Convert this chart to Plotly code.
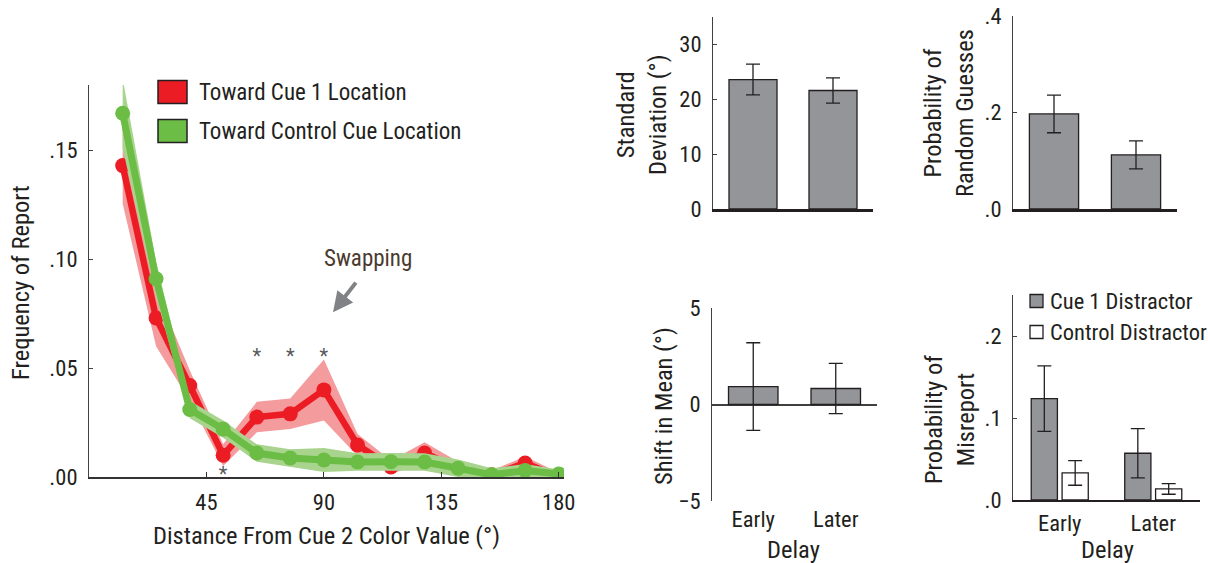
import plotly.graph_objects as go

# ---------------- data ----------------
angles = [12.9, 25.7, 38.6, 51.4, 64.3, 77.1, 90.0, 102.9, 115.7, 128.6, 141.4, 154.3, 167.1, 180.0]
cue1_freq = [0.143, 0.073, 0.042, 0.010, 0.0275, 0.029, 0.040, 0.0147, 0.0046, 0.011, 0.004, 0.001, 0.0064, 0.0]
cue1_err = [0.0175, 0.013, 0.007, 0.005, 0.007, 0.007, 0.014, 0.005, 0.003, 0.005, 0.003, 0.002, 0.003, 0.002]
ctrl_freq = [0.167, 0.091, 0.031, 0.022, 0.011, 0.0087, 0.0078, 0.0069, 0.007, 0.0069, 0.004, 0.001, 0.003, 0.0014]
ctrl_err = [0.016, 0.008, 0.004, 0.004, 0.004, 0.004, 0.0055, 0.004, 0.004, 0.004, 0.004, 0.003, 0.003, 0.002]
sig_above_angles = [64.3, 77.1, 90.0]
sig_above_level = 0.0548
sig_below_angles = [51.4]
sig_below_level = 0.0006

delay = ["Early", "Later"]
sd_vals = [23.6, 21.6]
sd_err = [2.8, 2.3]
guess_vals = [0.197, 0.112]
guess_err = [0.039, 0.029]
shift_vals = [0.93, 0.83]
shift_err = [2.27, 1.3]
mis_cue1 = [0.1236, 0.057]
mis_cue1_err = [0.040, 0.030]
mis_ctrl = [0.033, 0.0135]
mis_ctrl_err = [0.015, 0.0065]

# ---------------- style ----------------
FONT = "Liberation Sans Narrow, Roboto Condensed, Arial Narrow, Liberation Sans, sans-serif"
INK = "#231f20"
RED = "#ec1c24"
RED_BAND = "#f49b9d"
GREEN = "#6bbd45"
GREEN_BAND = "#a8d48e"
GRAY_BAR = "#939598"
W, H = 1210, 563


def px(x):
    return x / W


def py(y):
    return 1 - y / H


fig = go.Figure()

# ---- left panel: bands + lines ----
def band(xs, ys, es, color):
    up = [v + e for v, e in zip(ys, es)]
    lo = [v - e for v, e in zip(ys, es)]
    return go.Scatter(x=xs + xs[::-1], y=up + lo[::-1], fill="toself", fillcolor=color,
                      line=dict(width=0), mode="lines", hoverinfo="skip", showlegend=False,
                      xaxis="x", yaxis="y")

fig.add_trace(band(angles, cue1_freq, cue1_err, RED_BAND))
fig.add_trace(go.Scatter(x=angles, y=cue1_freq, mode="lines+markers", line=dict(color=RED, width=6.5),
                         marker=dict(color=RED, size=15), showlegend=False, xaxis="x", yaxis="y"))
fig.add_trace(band(angles, ctrl_freq, ctrl_err, GREEN_BAND))
fig.add_trace(go.Scatter(x=angles, y=ctrl_freq, mode="lines+markers", line=dict(color=GREEN, width=7),
                         marker=dict(color=GREEN, size=15), showlegend=False, xaxis="x", yaxis="y"))
fig.add_trace(go.Scatter(x=sig_above_angles, y=[sig_above_level] * len(sig_above_angles), mode="text",
                         text=["*"] * len(sig_above_angles), textfont=dict(size=20, color="#58595b", family=FONT),
                         showlegend=False, xaxis="x", yaxis="y", hoverinfo="skip", cliponaxis=False))
fig.add_trace(go.Scatter(x=sig_below_angles, y=[sig_below_level] * len(sig_below_angles), mode="text",
                         text=["*"] * len(sig_below_angles), textfont=dict(size=20, color="#58595b", family=FONT),
                         showlegend=False, xaxis="x", yaxis="y", hoverinfo="skip", cliponaxis=False))

# ---- bar panels ----
bar_line = dict(color=INK, width=1.3)
err_style = dict(type="data", thickness=1.3, color=INK, width=7)

fig.add_trace(go.Bar(x=delay, y=sd_vals, width=0.6, marker=dict(color=GRAY_BAR, line=bar_line),
                     error_y=dict(array=sd_err, **err_style), showlegend=False, xaxis="x2", yaxis="y2"))
fig.add_trace(go.Bar(x=delay, y=guess_vals, width=0.6, marker=dict(color=GRAY_BAR, line=bar_line),
                     error_y=dict(array=guess_err, **err_style), showlegend=False, xaxis="x3", yaxis="y3"))
fig.add_trace(go.Bar(x=delay, y=shift_vals, width=0.6, marker=dict(color=GRAY_BAR, line=bar_line),
                     error_y=dict(array=shift_err, **err_style), showlegend=False, xaxis="x4", yaxis="y4"))
fig.add_trace(go.Bar(x=delay, y=mis_cue1, width=0.28, offset=-0.305, name="Cue 1 Distractor",
                     marker=dict(color=GRAY_BAR, line=bar_line),
                     error_y=dict(array=mis_cue1_err, **err_style), showlegend=False, xaxis="x5", yaxis="y5"))
fig.add_trace(go.Bar(x=delay, y=mis_ctrl, width=0.28, offset=0.025, name="Control Distractor",
                     marker=dict(color="white", line=bar_line),
                     error_y=dict(array=mis_ctrl_err, **err_style), showlegend=False, xaxis="x5", yaxis="y5"))

tickfont = dict(family=FONT, size=22.5, color=INK)

common_y = dict(showgrid=False, zeroline=False, showline=True, linecolor="#404040", linewidth=1,
                ticks="inside", ticklen=4, tickcolor="#404040", tickfont=tickfont, ticklabelstandoff=6)

fig.update_layout(
    width=W, height=H, margin=dict(l=0, r=0, t=0, b=0, autoexpand=False),
    paper_bgcolor="white", plot_bgcolor="rgba(0,0,0,0)",
    font=dict(family=FONT, color=INK),
    barmode="overlay", showlegend=False,
    xaxis=dict(domain=[px(89), px(564)], range=[0, 182], tickvals=[45, 90, 135, 180],
               showgrid=False, zeroline=False, showline=True, linecolor="#333333", linewidth=1.5,
               ticks="inside", ticklen=5, tickcolor="#333333", tickfont=tickfont, ticklabelstandoff=4,
               anchor="y"),
    yaxis=dict(domain=[py(477), py(85)], range=[0, 0.18], tickvals=[0, 0.05, 0.10, 0.15],
               ticktext=[".00", ".05", ".10", ".15"], anchor="x", **common_y),
    xaxis2=dict(domain=[px(713), px(873)], range=[-0.5, 1.5], showticklabels=False, ticks="",
                showgrid=False, zeroline=False, showline=True, linecolor=INK, linewidth=2.5, anchor="y2"),
    yaxis2=dict(domain=[py(209), py(17)], range=[0, 35], tickvals=[0, 10, 20, 30], anchor="x2", **common_y),
    xaxis3=dict(domain=[px(1013), px(1177)], range=[-0.5, 1.5], showticklabels=False, ticks="",
                showgrid=False, zeroline=False, showline=True, linecolor=INK, linewidth=2.5, anchor="y3"),
    yaxis3=dict(domain=[py(209), py(16)], range=[0, 0.4], tickvals=[0, 0.2, 0.4],
                ticktext=[".0", ".2", ".4"], anchor="x3", **common_y),
    xaxis4=dict(domain=[px(712), px(877)], range=[-0.5, 1.5], showline=False, ticks="",
                showgrid=False, zeroline=False, tickfont=tickfont, ticklabelstandoff=2, anchor="y4"),
    yaxis4=dict(domain=[py(501), py(308)], range=[-5, 5], tickvals=[-5, 0, 5], ticktext=["\u22125", "0", "5"],
                anchor="x4", **{k: v for k, v in common_y.items() if k != "zeroline"},
                zeroline=True, zerolinecolor="#404040", zerolinewidth=1.5),
    xaxis5=dict(domain=[px(1013), px(1200)], range=[-0.5, 1.5], showline=True, linecolor=INK, linewidth=1.5,
                ticks="", showgrid=False, zeroline=False, tickfont=tickfont, ticklabelstandoff=2, anchor="y5"),
    yaxis5=dict(domain=[py(500), py(295)], range=[0, 0.25], tickvals=[0, 0.1, 0.2],
                ticktext=[".0", ".1", ".2"], anchor="x5", **common_y),
)

ann = []


def label(x, y, text, angle=0, size=24.5, color=INK, xanchor="center"):
    return dict(x=px(x), y=py(y), xref="paper", yref="paper", text=text, textangle=angle,
                xanchor=xanchor, yanchor="middle", showarrow=False,
                font=dict(family=FONT, size=size, color=color))


ann.append(label(21, 283, "Frequency of Report", -90))
ann.append(label(326, 535, "Distance From Cue 2 Color Value (°)"))
ann.append(label(641, 115, "Standard<br>Deviation (°)", -90))
ann.append(label(949, 113, "Probability of<br>Random Guesses", -90))
ann.append(label(663, 406, "Shift in Mean (°)", -90))
ann.append(label(949, 420, "Probability of<br>Misreport", -90))
ann.append(label(794, 549, "Delay"))
ann.append(label(1107, 549, "Delay"))
# Swapping annotation
ann.append(dict(x=107, y=0.1005, xref="x", yref="y", text="Swapping", showarrow=False,
                xanchor="center", yanchor="middle",
                font=dict(family=FONT, size=23, color="#4b3a2f")))
ann.append(dict(x=93.5, y=0.0757, xref="x", yref="y", ax=24, ay=-31, text="", showarrow=True,
                arrowhead=2, arrowsize=1, arrowwidth=4, arrowcolor="#808285"))

shapes = []
# left legend
leg_items = [("Toward Cue 1 Location", RED, 92), ("Toward Control Cue Location", GREEN, 131)]
for text, col, yc in leg_items:
    shapes.append(dict(type="rect", xref="paper", yref="paper", x0=px(158), x1=px(187),
                       y0=py(yc + 11.5), y1=py(yc - 11.5), fillcolor=col, line=dict(color=INK, width=1.5)))
    ann.append(label(197, yc, text, size=23, xanchor="left"))
# right legend
leg2_items = [("Cue 1 Distractor", GRAY_BAR, 301), ("Control Distractor", "white", 332)]
for text, col, yc in leg2_items:
    shapes.append(dict(type="rect", xref="paper", yref="paper", x0=px(1030), x1=px(1043),
                       y0=py(yc + 6.5), y1=py(yc - 6.5), fillcolor=col, line=dict(color=INK, width=1.3)))
    ann.append(label(1048, yc, text, size=22.5, xanchor="left"))

fig.update_layout(annotations=ann, shapes=shapes)
fig.write_html("out.html", config={"displayModeBar": False},
               post_script="document.body.style.margin='0px';document.body.style.overflow='hidden';")
